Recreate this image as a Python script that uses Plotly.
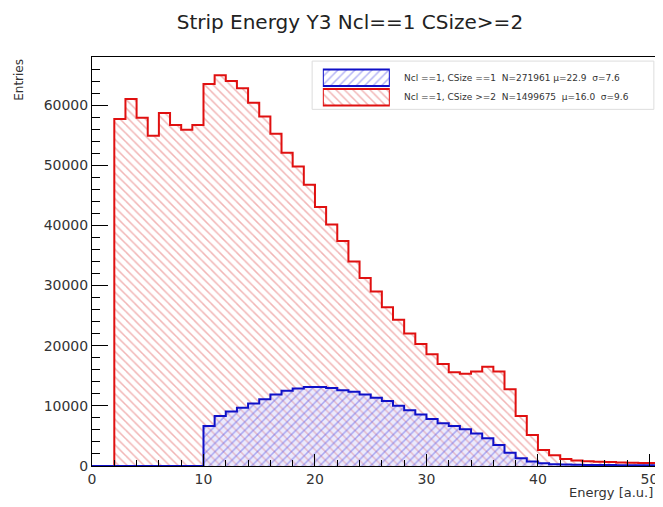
import plotly.graph_objects as go

# histogram binning: 51 bins of width 1 starting at 0
bin_edges = list(range(0, 52))

# CSize >= 2 (red)
red_counts = [0, 0, 57700, 61000, 57900, 54900, 58700, 56700, 55900, 56700,
              63500, 64950, 64000, 62800, 60400, 58100, 55250, 52100, 49800, 46750,
              43050, 40150, 37400, 34000, 31250, 29000, 26400, 24300, 22050, 20300,
              18600, 16950, 15600, 15350, 15700, 16500, 15700, 12750, 8300, 5150,
              2650, 1800, 1150, 900, 800, 700, 650, 600, 550, 500, 500]

# CSize == 1 (blue)
blue_counts = [0, 0, 0, 0, 0, 0, 0, 0, 0, 0,
               6650, 8300, 9050, 9700, 10400, 11100, 11900, 12500, 12900, 13150,
               13150, 12950, 12600, 12350, 11900, 11350, 10800, 10000, 9250, 8550,
               7800, 7100, 6650, 6100, 5400, 4600, 3500, 2200, 1300, 750,
               450, 300, 250, 200, 180, 160, 150, 140, 130, 120, 110]

legend_labels = ["Ncl ==1, CSize ==1  N=271961 \u03bc=22.9  \u03c3=7.6",
                 "Ncl ==1, CSize >=2  N=1499675  \u03bc=16.0  \u03c3=9.6"]

FONT = "DejaVu Sans"
RED = "#e01010"
BLUE = "#1010c8"

fig = go.Figure()

# step outline: repeat last value so the final bin gets its full width
fig.add_trace(go.Scatter(
    x=bin_edges, y=red_counts + [red_counts[-1]],
    mode="lines", line=dict(shape="hv", color=RED, width=2),
    fill="tozeroy", fillcolor="rgba(0,0,0,0)",
    fillpattern=dict(shape="\\", fgcolor="rgba(220,70,70,0.8)",
                     bgcolor="rgba(0,0,0,0)", size=6, solidity=0.25),
    showlegend=False, hoverinfo="skip"))

fig.add_trace(go.Scatter(
    x=bin_edges, y=blue_counts + [blue_counts[-1]],
    mode="lines", line=dict(shape="hv", color=BLUE, width=2),
    fill="tozeroy", fillcolor="rgba(0,0,0,0)",
    fillpattern=dict(shape="/", fgcolor="rgba(80,80,230,0.85)",
                     bgcolor="rgba(200,195,245,0.35)", size=6, solidity=0.25),
    showlegend=False, hoverinfo="skip"))

# legend swatches (ROOT style boxes)
fig.add_trace(go.Bar(
    x=[1, 1], y=[1, 0], base=0, orientation="h", width=0.85,
    marker=dict(color="white",
                line=dict(color=[BLUE, RED], width=2),
                pattern=dict(shape=["/", "\\"],
                             fgcolor=["rgba(80,80,230,0.85)", "rgba(220,70,70,0.8)"],
                             bgcolor="white", size=6, solidity=0.25)),
    xaxis="x2", yaxis="y2", showlegend=False, hoverinfo="skip"))

for i, lab in enumerate(legend_labels):
    fig.add_annotation(text=lab, xref="paper", yref="y2", x=0.551, y=1 - i,
                       xanchor="left", yanchor="middle", showarrow=False,
                       font=dict(family=FONT, size=9, color="#333"))

fig.add_shape(type="rect", xref="paper", yref="paper",
              x0=0.391, x1=0.998, y0=0.872, y1=0.99,
              line=dict(color="#dddddd", width=1), fillcolor="white", layer="below")

fig.add_annotation(text="Entries", xref="paper", yref="paper",
                   x=-0.13, y=1.0, xanchor="center", yanchor="top",
                   textangle=-90, showarrow=False,
                   font=dict(family=FONT, size=12, color="#333"))
fig.add_annotation(text="Energy [a.u.]", xref="paper", yref="paper",
                   x=1.0, y=-0.064, xanchor="right", yanchor="middle",
                   showarrow=False, font=dict(family=FONT, size=13, color="#333"))

# page body adds an 8px margin, so the figure is shrunk by that amount
fig.update_layout(
    width=655, height=499,
    margin=dict(l=84, r=8, t=49, b=41, autoexpand=False),
    paper_bgcolor="white", plot_bgcolor="white",
    title=dict(text="Strip Energy Y3 Ncl==1 CSize>=2", x=0.522, y=0.972,
               xanchor="center", yanchor="middle",
               font=dict(family=FONT, size=20, color="#222")),
    barmode="overlay",
    xaxis=dict(range=[0, 50.5], tick0=0, dtick=10, ticks="inside", ticklen=12,
               tickcolor="black", showline=True, linecolor="black", linewidth=1,
               mirror=True, showgrid=False, zeroline=False, automargin=False,
               ticklabeloverflow="allow",
               minor=dict(dtick=2, ticks="inside", ticklen=6, tickcolor="black"),
               tickfont=dict(family=FONT, size=14, color="#333")),
    yaxis=dict(range=[0, 68000], tick0=0, dtick=10000, tickformat="d",
               ticks="inside", ticklen=16, tickcolor="black", showline=True,
               linecolor="black", linewidth=1, mirror=True, showgrid=False,
               zeroline=False, automargin=False,
               minor=dict(dtick=2000, ticks="inside", ticklen=8, tickcolor="black"),
               tickfont=dict(family=FONT, size=14, color="#333")),
    xaxis2=dict(domain=[0.41, 0.529], range=[0, 1], visible=False, anchor="y2"),
    yaxis2=dict(domain=[0.878, 0.973], range=[-0.5, 1.5], visible=False, anchor="x2"),
)

fig.write_html("out.html")
